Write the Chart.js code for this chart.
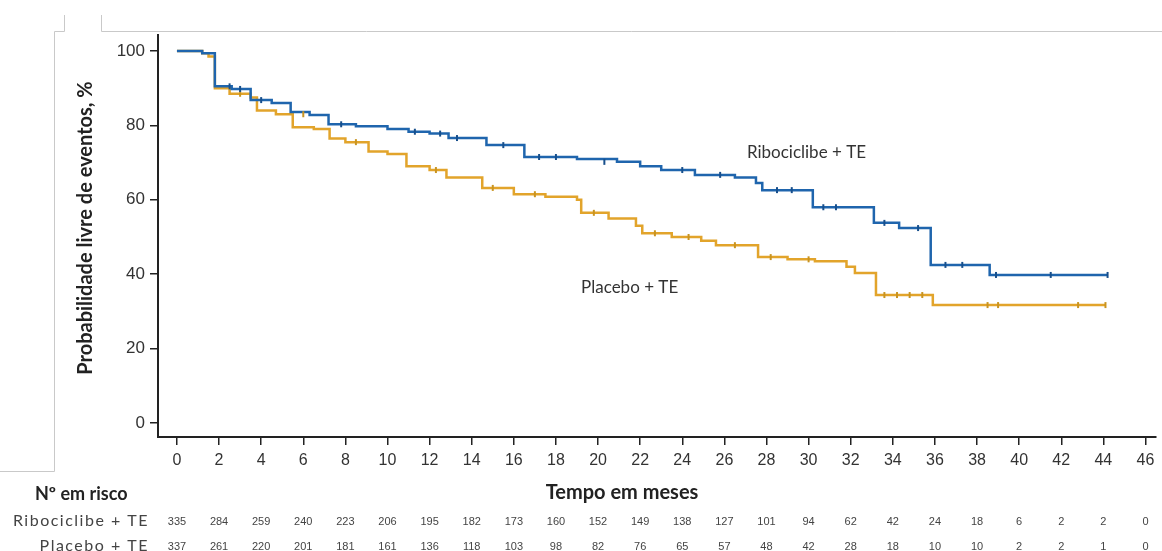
<!DOCTYPE html>
<html>
<head>
<meta charset="utf-8">
<script src="https://cdn.jsdelivr.net/npm/chart.js@4/dist/chart.umd.min.js"></script>
<style>
  html, body { margin: 0; padding: 0; background: #fff; }
</style>
</head>
<body>
<canvas id="chart" width="1162" height="551"></canvas>
<script>
// Kaplan-Meier steps: time in months, % event-free after that time
const riboTimes = [0, 1.2, 1.8, 2.6, 3.5, 4.5, 5.4, 6.3, 7.2, 8.5, 10, 11, 12, 12.9, 14.7, 16.5, 19, 20.9, 22, 23, 24.6, 26.5, 27.5, 27.8, 30.2, 33.1, 34.3, 35.8, 38.6, 44.2];
const riboValues = [100, 99.4, 90.5, 89.8, 86.8, 86.0, 83.6, 82.8, 80.3, 79.8, 79.0, 78.3, 77.8, 76.6, 74.7, 71.5, 71.0, 70.2, 69.0, 68.0, 66.7, 66.0, 64.5, 62.6, 58.0, 53.8, 52.4, 42.5, 39.8, 39.8];

const placeboTimes = [0, 1.2, 1.5, 1.8, 2.5, 3.5, 3.8, 4.7, 5.5, 6.5, 7.25, 8, 9.1, 10, 10.9, 12, 12.8, 14.5, 16, 17.5, 19, 19.2, 20.5, 21.8, 22.1, 23.5, 24.9, 25.6, 27.6, 29, 30.3, 31.8, 32.2, 33.2, 35.9, 44.1];
const placeboValues = [100, 99.4, 98.5, 90.0, 88.5, 87.5, 84.0, 83.0, 79.5, 79.0, 76.5, 75.5, 73.0, 72.3, 69.0, 68.0, 66.0, 63.2, 61.5, 60.8, 60.0, 56.5, 55.0, 53.0, 51.0, 50.0, 49.0, 47.8, 44.6, 44.0, 43.5, 42.0, 40.3, 34.4, 31.7, 31.7];

// censored observations (tick marks on the curves)
const riboCensorTimes = [2.5, 3, 4, 7.8, 11.3, 12.5, 13.3, 15.5, 17.2, 18, 20.3, 24, 25.8, 28.5, 29.2, 30.7, 31.3, 33.6, 35.2, 36.5, 37.3, 38.9, 41.5, 44.2];
const riboCensorValues = [90.5, 89.8, 86.8, 80.3, 78.3, 77.8, 76.6, 74.7, 71.5, 71.5, 70.2, 68.0, 66.7, 62.6, 62.6, 58.0, 58.0, 53.8, 52.4, 42.5, 42.5, 39.8, 39.8, 39.8];
const placeboCensorTimes = [3, 6, 8.5, 12.3, 15, 17, 19.8, 22.7, 24.3, 26.5, 28.2, 30, 33.6, 34.2, 34.8, 35.4, 38.5, 39, 42.8, 44.1];
const placeboCensorValues = [88.5, 83.0, 75.5, 68.0, 63.2, 61.5, 56.5, 51.0, 50.0, 47.8, 44.6, 44.0, 34.4, 34.4, 34.4, 34.4, 31.7, 31.7, 31.7, 31.7];

const xTicks = [0, 2, 4, 6, 8, 10, 12, 14, 16, 18, 20, 22, 24, 26, 28, 30, 32, 34, 36, 38, 40, 42, 44, 46];
const yTicks = [0, 20, 40, 60, 80, 100];

// number at risk at each x tick
const riskRibo = [335, 284, 259, 240, 223, 206, 195, 182, 173, 160, 152, 149, 138, 127, 101, 94, 62, 42, 24, 18, 6, 2, 2, 0];
const riskPlacebo = [337, 261, 220, 201, 181, 161, 136, 118, 103, 98, 82, 76, 65, 57, 48, 42, 28, 18, 10, 10, 2, 2, 1, 0];

const BLUE = "#1f65ad";
const GOLD = "#e2a42b";
const TEXT_FONT = "Lato, 'Open Sans', sans-serif";
const NUM_FONT = "'Liberation Sans', Arial, sans-serif";

const toPoints = (xs, ys) => xs.map((x, i) => ({ x, y: ys[i] }));

// frame, titles, curve labels and the risk table
const extrasPlugin = {
  id: "extras",
  beforeDraw(chart) {
    const ctx = chart.ctx;
    ctx.save();
    ctx.strokeStyle = "#c9c9c9";
    ctx.lineWidth = 1;
    ctx.beginPath();
    ctx.moveTo(0, 471.5);
    ctx.lineTo(54.5, 471.5);
    ctx.lineTo(54.5, 31.5);
    ctx.lineTo(64.5, 31.5);
    ctx.lineTo(64.5, 15);
    ctx.moveTo(101.5, 15);
    ctx.lineTo(101.5, 31.5);
    ctx.lineTo(1162, 31.5);
    ctx.stroke();
    ctx.restore();
  },
  afterDraw(chart) {
    const ctx = chart.ctx;
    const xs = chart.scales.x;
    const ys = chart.scales.y;
    ctx.save();

    // y title
    ctx.save();
    ctx.translate(86, 228);
    ctx.rotate(-Math.PI / 2);
    ctx.fillStyle = "#222";
    ctx.font = "bold 20px " + TEXT_FONT;
    ctx.textAlign = "center";
    ctx.textBaseline = "middle";
    ctx.fillText("Probabilidade livre de eventos, %", 0, 0);
    ctx.restore();

    ctx.fillStyle = "#333";
    ctx.font = "17px " + TEXT_FONT;
    ctx.textAlign = "center";
    ctx.textBaseline = "middle";
    ctx.fillText("Ribociclibe + TE", xs.getPixelForValue(29.9), ys.getPixelForValue(72.6));
    ctx.fillText("Placebo + TE", xs.getPixelForValue(21.5), ys.getPixelForValue(36.3));

    ctx.fillStyle = "#222";
    ctx.font = "bold 20px " + TEXT_FONT;
    ctx.fillText("Tempo em meses", 622, 493);

    ctx.font = "bold 18px " + TEXT_FONT;
    ctx.textAlign = "left";
    ctx.fillText("Nº em risco", 35, 494);

    ctx.fillStyle = "#444";
    ctx.font = "16px " + TEXT_FONT;
    ctx.letterSpacing = "1.5px";
    ctx.textAlign = "right";
    ctx.fillText("Ribociclibe + TE", 149, 521);
    ctx.fillText("Placebo + TE", 149, 546);
    ctx.letterSpacing = "0px";

    ctx.font = "11px " + NUM_FONT;
    ctx.textAlign = "center";
    xTicks.forEach((t, i) => {
      const px = xs.getPixelForValue(t);
      ctx.fillText(String(riskRibo[i]), px, 522);
      ctx.fillText(String(riskPlacebo[i]), px, 547);
    });
    ctx.restore();
  },
};

const axisGrid = {
  drawOnChartArea: false,
  drawTicks: true,
  tickLength: 8,
  color: "#222",
  lineWidth: 1.5,
};

new Chart(document.getElementById("chart"), {
  type: "line",
  data: {
    datasets: [
      {
        label: "Ribociclibe + TE",
        data: toPoints(riboTimes, riboValues),
        borderColor: BLUE,
        borderWidth: 2.5,
        stepped: "before",
        pointRadius: 0,
        order: 2,
      },
      {
        label: "Placebo + TE",
        data: toPoints(placeboTimes, placeboValues),
        borderColor: GOLD,
        borderWidth: 2.5,
        stepped: "before",
        pointRadius: 0,
        order: 3,
      },
      {
        label: "censor ribo",
        data: toPoints(riboCensorTimes, riboCensorValues),
        showLine: false,
        pointStyle: "line",
        rotation: 90,
        pointRadius: 3,
        pointBorderWidth: 2,
        pointBorderColor: "#174f8c",
        order: 0,
      },
      {
        label: "censor placebo",
        data: toPoints(placeboCensorTimes, placeboCensorValues),
        showLine: false,
        pointStyle: "line",
        rotation: 90,
        pointRadius: 3,
        pointBorderWidth: 2,
        pointBorderColor: "#c99420",
        order: 1,
      },
    ],
  },
  options: {
    responsive: false,
    animation: false,
    devicePixelRatio: 1,
    layout: { padding: { top: 35, right: 4, left: 0, bottom: 0 } },
    plugins: {
      legend: { display: false },
      tooltip: { enabled: false },
    },
    scales: {
      x: {
        type: "linear",
        min: -0.9,
        max: 46.5,
        afterBuildTicks: (s) => { s.ticks = xTicks.map((v) => ({ value: v })); },
        afterFit: (s) => { s.height = 114; },
        ticks: {
          font: { family: NUM_FONT, size: 16 },
          color: "#333",
          padding: 6,
          maxRotation: 0,
          autoSkip: false,
        },
        grid: axisGrid,
        border: { color: "#222", width: 2 },
      },
      y: {
        min: -3.76,
        max: 104.3,
        afterBuildTicks: (s) => { s.ticks = yTicks.map((v) => ({ value: v })); },
        afterFit: (s) => { s.width = 158; },
        ticks: {
          font: { family: NUM_FONT, size: 17 },
          color: "#333",
          padding: 5,
        },
        grid: axisGrid,
        border: { color: "#222", width: 2 },
      },
    },
  },
  plugins: [extrasPlugin],
});
</script>
</body>
</html>
